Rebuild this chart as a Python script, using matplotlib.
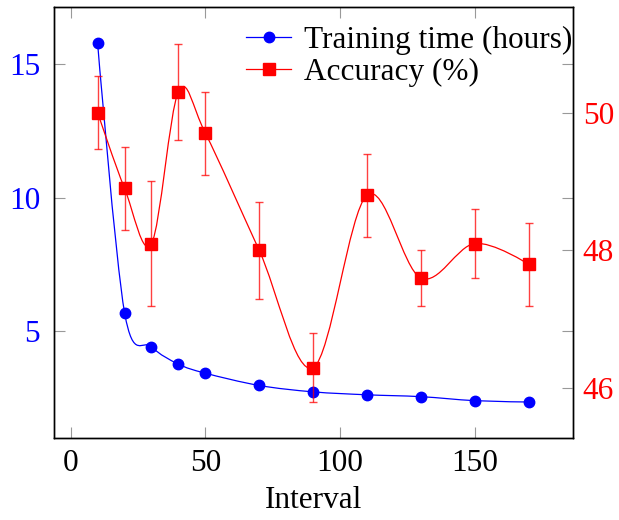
import numpy as np
import matplotlib
matplotlib.use('Agg')
import matplotlib.pyplot as plt
from matplotlib.path import Path
from matplotlib.patches import PathPatch
from matplotlib.lines import Line2D

plt.rcParams['font.family'] = ['Liberation Serif', 'DejaVu Serif']
plt.rcParams['mathtext.fontset'] = 'stix'

# data
interval = [10, 20, 30, 40, 50, 70, 90, 110, 130, 150, 170]
train_hours = [15.79, 5.69, 4.41, 3.76, 3.42, 2.96, 2.72, 2.61, 2.54, 2.39, 2.34]
accuracy = [50.0, 48.9, 48.1, 50.3, 49.7, 48.0, 46.3, 48.8, 47.6, 48.1, 47.8]
acc_err = [0.53, 0.6, 0.9, 0.7, 0.6, 0.7, 0.5, 0.6, 0.4, 0.5, 0.6]

BLUE = '#0000ff'
RED = '#ff0000'


def smooth_path(x, y, t=1 / 6):
    # smooth cubic bezier through the points (like tikz "smooth")
    p = np.column_stack([x, y]).astype(float)
    n = len(p)
    verts = [p[0]]
    codes = [Path.MOVETO]
    for i in range(n - 1):
        d0 = (p[i + 1] - p[i - 1]) if i > 0 else np.zeros(2)
        d1 = (p[i + 2] - p[i]) if i + 2 < n else np.zeros(2)
        verts += [p[i] + t * d0, p[i + 1] - t * d1, p[i + 1]]
        codes += [Path.CURVE4] * 3
    return Path(verts, codes)


fig = plt.figure(figsize=(6.19, 5.2), dpi=100)
ax = fig.add_axes([54 / 619, 1 - 438 / 520, (573 - 54) / 619, (438 - 7) / 520])
ax2 = ax.twinx()

ax.set_xlim(-6.2, 186.5)
ax.set_ylim(0.99, 17.15)
ax2.set_ylim(45.28, 51.53)

fs = 22.5
ax.add_patch(PathPatch(smooth_path(interval, train_hours), fc='none', ec=BLUE, lw=0.9))
ax.plot(interval, train_hours, 'o', color=BLUE, ms=7.5, mec=BLUE)

ax2.errorbar(interval, accuracy, yerr=acc_err, fmt='none', ecolor=RED, alpha=0.75,
             elinewidth=1.0, capsize=3, capthick=1.0)
ax2.add_patch(PathPatch(smooth_path(interval, accuracy), fc='none', ec=RED, lw=0.9))
ax2.plot(interval, accuracy, 's', color=RED, ms=8)

ax.set_xticks([0, 50, 100, 150])
ax.set_yticks([5, 10, 15])
ax2.set_yticks([46, 48, 50])

tick_kw = dict(direction='in', length=8, width=0.8, color='#999999')
ax.tick_params(axis='x', top=True, labelsize=fs, pad=8, **tick_kw)
ax.tick_params(axis='y', left=True, right=True, labelsize=fs, labelcolor=BLUE, pad=10, **tick_kw)
ax2.tick_params(axis='y', right=True, labelsize=fs, labelcolor=RED, pad=7, **tick_kw)

for a in (ax, ax2):
    for s in a.spines.values():
        s.set_linewidth(1.0)
        s.set_color('black')

ax.set_xlabel('Interval', fontsize=fs, labelpad=6)

handles = [Line2D([], [], color=BLUE, lw=0.9, marker='o', ms=7.5),
           Line2D([], [], color=RED, lw=0.9, marker='s', ms=8)]
fig.legend(handles, ['Training time (hours)', 'Accuracy (%)'], loc='upper left',
           bbox_to_anchor=(246 / 619, 1 - 26 / 520), frameon=False, fontsize=fs,
           borderpad=0, borderaxespad=0, handlelength=1.45, handletextpad=0.4,
           labelspacing=0.1)

fig.savefig('out.png', dpi=100)
